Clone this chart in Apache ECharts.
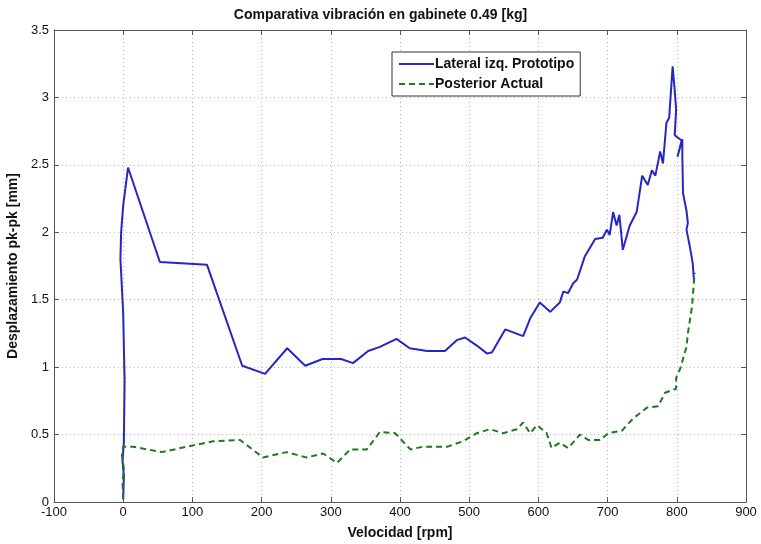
<!DOCTYPE html>
<html><head><meta charset="utf-8">
<script src="https://cdn.jsdelivr.net/npm/echarts@6/dist/echarts.min.js"></script>
<style>html,body{margin:0;padding:0;background:#fff}#c{width:761px;height:544px}</style>
</head><body><div id="c"></div>
<script>
const titleText = "Comparativa vibración en gabinete 0.49 [kg]";
const xName = "Velocidad [rpm]";
const yName = "Desplazamiento pk-pk [mm]";
const seriesNames = ["Lateral izq. Prototipo", "Posterior Actual"];
const lateralX = [0,1,-1,1,2,0,-4,-3,0,7,53,121,172,205,237,263,288,315,332,354,371,395,414,439,465,482,494,511,526,533,552,578,588,602,617,631,636,643,650,656,667,682,693,699,703,708,713,717,722,732,742,750,758,764,769,776,780,785,789,794,797,799,797,807,801,808,808,809,814,816,814,819,823,825];
const lateralY = [0.02,0.2,0.3,0.45,0.9,1.4,1.8,2.0,2.2,2.48,1.78,1.76,1.01,0.95,1.14,1.01,1.06,1.06,1.03,1.12,1.15,1.21,1.14,1.12,1.12,1.20,1.22,1.16,1.10,1.11,1.28,1.23,1.36,1.48,1.41,1.48,1.56,1.55,1.62,1.65,1.82,1.95,1.96,2.02,1.98,2.15,2.05,2.13,1.87,2.05,2.15,2.42,2.35,2.46,2.42,2.60,2.51,2.81,2.85,3.23,3.05,2.91,2.72,2.68,2.56,2.69,2.56,2.29,2.16,2.07,2.02,1.89,1.77,1.63];
const posteriorX = [0,-1,1,-2,0,14,56,101,130,169,202,236,265,289,309,328,352,371,393,415,433,468,491,511,530,549,569,578,588,598,612,619,631,643,660,672,689,701,721,737,757,773,783,799,799,805,814,816,822,825,826];
const posteriorY = [0.02,0.15,0.25,0.35,0.41,0.41,0.37,0.42,0.45,0.46,0.33,0.37,0.33,0.36,0.29,0.39,0.39,0.52,0.51,0.39,0.41,0.41,0.45,0.51,0.54,0.51,0.54,0.59,0.51,0.57,0.51,0.40,0.44,0.40,0.50,0.46,0.46,0.51,0.53,0.62,0.70,0.71,0.81,0.84,0.92,0.99,1.15,1.25,1.45,1.65,1.70];
const xTicks = {min:-100, max:900, interval:100};
const yTicks = {min:0, max:3.5, interval:0.5};

const pair = (xs, ys) => xs.map((x,i)=>[x, ys[i]]);
const font = "'Liberation Sans', Arial, sans-serif";
const gridLine = {show:true, lineStyle:{color:'#b8b8b8', type:[1,3], width:1}};
const axisLine = {show:true, onZero:false, lineStyle:{color:'#555', width:1}};
const tick = {show:true, inside:true, length:5, lineStyle:{color:'#555'}};
const chart = echarts.init(document.getElementById('c'));
chart.setOption({
  animation:false,
  backgroundColor:'#fff',
  title:{text:titleText, left:'center', top:3, textStyle:{fontFamily:font, fontSize:14, fontWeight:'bold', color:'#111'}},
  grid:{left:54, right:15, top:30, bottom:42, containLabel:false, outerBoundsMode:'none'},
  legend:{
    data:seriesNames, orient:'vertical', left:392, top:52,
    backgroundColor:'#fff', borderColor:'#333', borderWidth:1,
    padding:[5,6,5,6], itemGap:6, itemWidth:35, itemHeight:10,
    itemStyle:{opacity:0},
    textStyle:{fontFamily:font, fontSize:14, fontWeight:'bold', color:'#111', padding:[0,0,0,-4]}
  },
  xAxis:[
    {type:'value', min:xTicks.min, max:xTicks.max, interval:xTicks.interval, position:'bottom',
     name:xName, nameLocation:'middle', nameGap:24,
     nameTextStyle:{fontFamily:font, fontSize:14, fontWeight:'bold', color:'#111'},
     axisLine:axisLine, axisTick:tick,
     axisLabel:{fontFamily:font, fontSize:13, color:'#111', margin:4},
     splitLine:gridLine},
    {type:'value', min:xTicks.min, max:xTicks.max, interval:xTicks.interval, position:'top',
     axisLine:axisLine, axisTick:tick, axisLabel:{show:false}, splitLine:{show:false}}
  ],
  yAxis:[
    {type:'value', min:yTicks.min, max:yTicks.max, interval:yTicks.interval, position:'left',
     name:yName, nameLocation:'middle', nameGap:31,
     nameTextStyle:{fontFamily:font, fontSize:14, fontWeight:'bold', color:'#111'},
     axisLine:axisLine, axisTick:tick,
     axisLabel:{fontFamily:font, fontSize:13, color:'#111', margin:5},
     splitLine:gridLine},
    {type:'value', min:yTicks.min, max:yTicks.max, interval:yTicks.interval, position:'right',
     axisLine:axisLine, axisTick:tick, axisLabel:{show:false}, splitLine:{show:false}}
  ],
  series:[
    {name:seriesNames[0], type:'line', data:pair(lateralX, lateralY), symbol:'none',
     lineStyle:{color:'#2626c4', width:2}, itemStyle:{color:'#2626c4'}, z:3},
    {name:seriesNames[1], type:'line', data:pair(posteriorX, posteriorY), symbol:'none',
     lineStyle:{color:'#1f7a1f', width:2, type:[6,4]}, itemStyle:{color:'#1f7a1f'}, z:4}
  ]
});
</script></body></html>
